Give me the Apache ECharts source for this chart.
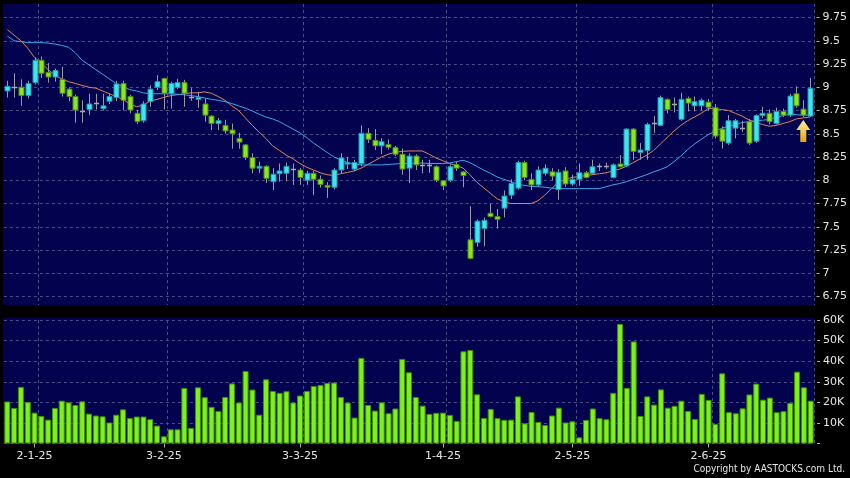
<!DOCTYPE html>
<html>
<head>
<meta charset="utf-8">
<script src="https://cdn.jsdelivr.net/npm/echarts@6/dist/echarts.min.js"></script>
<style>
html,body{margin:0;padding:0;background:#000;}
#chart{width:850px;height:478px;}
</style>
</head>
<body>
<div id="chart"></div>
<script>
// ---- data ----
const dates = [
'23-12-24','24-12-24','27-12-24','30-12-24','31-12-24',
'2-1-25','3-1-25','6-1-25','7-1-25','8-1-25','9-1-25','10-1-25','13-1-25','14-1-25','15-1-25','16-1-25','17-1-25','20-1-25','21-1-25','22-1-25','23-1-25','24-1-25','27-1-25','28-1-25',
'3-2-25','4-2-25','5-2-25','6-2-25','7-2-25','10-2-25','11-2-25','12-2-25','13-2-25','14-2-25','17-2-25','18-2-25','19-2-25','20-2-25','21-2-25','24-2-25','25-2-25','26-2-25','27-2-25','28-2-25',
'3-3-25','4-3-25','5-3-25','6-3-25','7-3-25','10-3-25','11-3-25','12-3-25','13-3-25','14-3-25','17-3-25','18-3-25','19-3-25','20-3-25','21-3-25','24-3-25','25-3-25','26-3-25','27-3-25','28-3-25','31-3-25',
'1-4-25','2-4-25','3-4-25','7-4-25','8-4-25','9-4-25','10-4-25','11-4-25','14-4-25','15-4-25','16-4-25','17-4-25','22-4-25','23-4-25','24-4-25','25-4-25','28-4-25','29-4-25','30-4-25',
'2-5-25','6-5-25','7-5-25','8-5-25','9-5-25','12-5-25','13-5-25','14-5-25','15-5-25','16-5-25','19-5-25','20-5-25','21-5-25','22-5-25','23-5-25','26-5-25','27-5-25','28-5-25','29-5-25','30-5-25',
'2-6-25','3-6-25','4-6-25','5-6-25','6-6-25','9-6-25','10-6-25','11-6-25','12-6-25','13-6-25','16-6-25','17-6-25','18-6-25','19-6-25','20-6-25'
];
const openP = [
8.96,9.00,9.00,8.91,9.05,9.29,9.16,9.11,9.085,8.98,8.90,8.75,8.76,8.83,8.77,8.85,8.89,9.04,8.90,8.72,
8.64,8.845,9.00,9.095,8.93,9.00,9.05,8.89,8.87,8.82,8.69,8.61,8.59,8.54,8.45,8.38,8.245,8.13,8.15,7.985,
8.07,8.075,8.12,8.11,8.00,8.075,8.01,7.945,7.925,8.11,8.175,8.12,8.18,8.505,8.43,8.37,8.385,8.35,8.28,8.13,
8.26,8.165,8.165,8.145,7.995,8.00,8.17,8.09,7.36,7.33,7.48,7.645,7.61,7.70,7.84,7.915,8.19,8.01,7.95,8.075,
8.09,7.90,8.10,7.96,8.01,8.08,8.075,8.15,8.15,8.03,8.175,8.155,8.55,8.30,8.32,8.62,8.59,8.87,8.82,8.655,
8.88,8.80,8.80,8.84,8.78,8.55,8.40,8.56,8.56,8.63,8.42,8.695,8.72,8.61,8.74,8.70,8.93,8.765,8.69
];
const highP = [
9.07,9.15,9.085,9.07,9.32,9.33,9.26,9.20,9.22,9.00,8.92,8.86,8.93,8.93,8.93,8.93,9.07,9.07,8.92,8.755,
8.85,9.02,9.13,9.10,9.06,9.09,9.08,8.99,8.95,8.88,8.70,8.67,8.65,8.61,8.51,8.39,8.29,8.20,8.16,8.13,
8.18,8.19,8.18,8.13,8.10,8.10,8.05,7.98,8.13,8.29,8.25,8.22,8.59,8.56,8.55,8.45,8.44,8.37,8.34,8.29,
8.28,8.22,8.22,8.16,8.00,8.17,8.20,8.10,7.72,7.58,7.60,7.75,7.69,7.89,8.01,8.21,8.21,8.075,8.15,8.17,
8.13,8.12,8.14,8.06,8.18,8.10,8.22,8.18,8.19,8.18,8.27,8.56,8.56,8.40,8.62,8.69,8.91,8.88,8.89,8.94,
8.90,8.90,8.88,8.87,8.82,8.58,8.70,8.66,8.64,8.66,8.71,8.79,8.76,8.78,8.77,8.93,9.01,8.86,9.10
];
const lowP = [
8.89,8.89,8.80,8.88,9.03,9.10,9.05,9.06,8.90,8.85,8.62,8.62,8.70,8.76,8.75,8.82,8.85,8.75,8.72,8.605,
8.62,8.79,8.97,8.76,8.77,8.98,8.79,8.855,8.78,8.63,8.54,8.54,8.50,8.34,8.34,8.22,8.075,8.08,7.97,7.895,
7.985,7.99,7.95,7.95,7.95,7.84,7.92,7.81,7.90,8.07,8.12,8.10,8.15,8.40,8.325,8.28,8.33,8.26,8.06,7.97,
8.11,8.075,8.08,7.98,7.895,7.98,8.10,7.925,7.15,7.285,7.29,7.60,7.48,7.60,7.80,7.90,8.00,7.895,7.93,8.05,
8.00,7.79,7.93,7.94,7.94,8.02,8.06,8.10,8.12,8.02,8.14,8.14,8.22,8.22,8.22,8.51,8.58,8.72,8.73,8.64,
8.74,8.74,8.75,8.75,8.45,8.34,8.38,8.45,8.52,8.38,8.40,8.67,8.60,8.60,8.68,8.68,8.78,8.68,8.68
];
const closeP = [
9.01,9.00,8.91,9.04,9.29,9.15,9.11,9.18,8.935,8.90,8.755,8.75,8.82,8.83,8.80,8.90,9.035,8.86,8.755,8.63,
8.82,8.98,9.06,8.935,9.04,9.05,8.935,8.89,8.89,8.70,8.61,8.64,8.53,8.50,8.41,8.245,8.13,8.15,8.02,8.065,
8.10,8.15,8.12,8.03,8.075,8.01,7.955,7.925,8.11,8.24,8.19,8.19,8.505,8.44,8.37,8.415,8.355,8.28,8.12,8.26,
8.165,8.165,8.165,8.00,7.94,8.145,8.13,8.05,7.16,7.56,7.57,7.61,7.58,7.83,7.965,8.19,8.03,7.95,8.11,8.13,
8.045,8.085,7.96,8.01,8.08,8.03,8.145,8.15,8.15,8.165,8.145,8.55,8.31,8.325,8.60,8.62,8.89,8.76,8.82,8.87,
8.83,8.845,8.86,8.785,8.475,8.42,8.64,8.64,8.56,8.40,8.695,8.72,8.63,8.74,8.70,8.905,8.80,8.70,8.99
];
const volumeK = [
20.4,17.3,27.5,20.2,15.0,13.4,11.6,17.3,20.8,20.0,18.7,20.5,14.5,13.6,13.2,10.2,14.0,16.6,12.4,13.1,
13.1,11.8,8.7,3.5,6.9,6.9,27.0,7.6,27.3,22.5,17.8,15.8,22.6,29.2,19.9,35.2,26.2,14.0,31.2,25.5,
24.6,25.4,19.9,23.3,25.5,27.9,28.4,29.4,29.6,22.6,19.9,12.6,41.6,18.7,16.0,20.0,14.7,17.0,41.1,34.6,
22.6,18.4,14.4,14.9,15.0,13.9,11.0,44.8,45.4,23.9,12.4,16.8,12.3,11.5,11.6,22.9,9.8,15.3,10.5,9.0,
13.6,17.4,10.2,10.8,3.0,11.5,17.0,12.3,11.8,24.6,58.1,27.0,49.6,13.4,22.9,18.9,26.3,17.4,18.3,20.8,
15.8,11.9,24.1,21.2,9.5,34.1,15.2,14.7,17.1,23.8,29.1,21.3,22.3,15.2,15.7,19.7,34.9,27.3,20.8
];
const maShort = [
9.62,9.56,9.50,9.42,9.32,9.26,9.19,9.13,9.09,9.06,9.04,9.02,9.00,8.99,8.96,8.93,8.90,8.87,8.82,8.79,
8.81,8.85,8.87,8.89,8.91,8.92,8.93,8.94,8.94,8.95,8.935,8.90,8.86,8.80,8.75,8.67,8.59,8.52,8.45,8.37,
8.32,8.27,8.23,8.18,8.14,8.11,8.08,8.06,8.05,8.07,8.085,8.10,8.13,8.17,8.21,8.25,8.28,8.30,8.31,8.315,
8.315,8.315,8.28,8.24,8.21,8.18,8.16,8.13,8.06,7.98,7.92,7.86,7.80,7.77,7.75,7.75,7.75,7.75,7.78,7.84,
7.91,7.98,8.01,8.03,8.04,8.05,8.06,8.07,8.08,8.10,8.12,8.15,8.19,8.23,8.27,8.32,8.39,8.46,8.53,8.59,
8.64,8.68,8.72,8.77,8.77,8.76,8.75,8.72,8.69,8.65,8.62,8.60,8.58,8.59,8.61,8.63,8.66,8.67,8.68
];
const maLong = [
9.55,9.50,9.49,9.48,9.48,9.48,9.475,9.465,9.45,9.43,9.37,9.29,9.24,9.19,9.14,9.09,9.04,9.005,8.975,8.96,
8.94,8.93,8.93,8.93,8.93,8.925,8.92,8.91,8.90,8.885,8.87,8.86,8.845,8.825,8.80,8.775,8.745,8.71,8.68,8.66,
8.63,8.59,8.55,8.51,8.46,8.40,8.35,8.30,8.25,8.22,8.19,8.175,8.165,8.165,8.165,8.165,8.17,8.175,8.18,8.18,
8.185,8.185,8.18,8.18,8.18,8.185,8.20,8.215,8.19,8.15,8.11,8.075,8.035,8.01,7.985,7.96,7.945,7.935,7.93,7.925,
7.915,7.91,7.91,7.91,7.91,7.91,7.91,7.91,7.93,7.95,7.965,7.985,8.01,8.035,8.06,8.09,8.115,8.145,8.20,8.26,
8.33,8.39,8.44,8.49,8.525,8.56,8.58,8.60,8.62,8.63,8.64,8.645,8.655,8.675,8.695,8.71,8.705,8.70,8.70
];
const priceTicks = {min: 6.75, max: 9.75, step: 0.25};
const volumeTicks = {min: 0, max: 60, step: 10};
const arrowIndex = 117;
const arrowPrice = 8.53;

// ---- build ----
const monthOf = d => d.split('-')[1];
const monthStart = new Set();
for (let i = 1; i < dates.length; i++) if (monthOf(dates[i]) !== monthOf(dates[i-1])) monthStart.add(i);
const isMonthStart = i => monthStart.has(i);
const isBeforeMonthStart = i => monthStart.has(i + 1);

const candleData = dates.map((d, i) => [i, openP[i], closeP[i], lowP[i], highP[i]]);

const UP_FILL = '#3fe4f2', UP_LINE = '#1f97a6';
const DN_FILL = '#8be61f', DN_LINE = '#4f8a14';
const WICK = '#9a9aa6';

function renderCandle(params, api) {
  const i = api.value(0), o = api.value(1), c = api.value(2), l = api.value(3), h = api.value(4);
  const pO = api.coord([i, o]), pC = api.coord([i, c]), pL = api.coord([i, l]), pH = api.coord([i, h]);
  const bw = Math.round(api.size([1, 0])[0] * 0.74);
  const xc = Math.round(pO[0]) + 0.5;
  const children = [{
    type: 'line',
    shape: {x1: xc, y1: pH[1], x2: xc, y2: pL[1]},
    style: {stroke: WICK, lineWidth: 1}
  }];
  if (Math.abs(o - c) < 1e-9) {
    const y = Math.round(pO[1]) + 0.5;
    children.push({type: 'line', shape: {x1: xc - bw/2, y1: y, x2: xc + bw/2, y2: y}, style: {stroke: '#a8a8b0', lineWidth: 1.5}});
  } else {
    const up = c > o;
    const top = Math.min(pO[1], pC[1]);
    const hgt = Math.max(Math.abs(pO[1] - pC[1]), 1.5);
    children.push({
      type: 'rect',
      shape: {x: xc - bw/2, y: top, width: bw, height: hgt},
      style: {fill: up ? UP_FILL : DN_FILL, stroke: up ? UP_LINE : DN_LINE, lineWidth: 1}
    });
  }
  return {type: 'group', children};
}

const gridLine = {color: '#4c4c86', type: [3, 3], width: 1};
const labelFont = {color: '#e6e6e6', fontSize: 11, fontFamily: 'DejaVu Sans'};

const chart = echarts.init(document.getElementById('chart'), null, {renderer: 'canvas'});
chart.setOption({
  backgroundColor: '#000000',
  animation: false,
  graphic: [
    {type: 'rect', z: -10, silent: true, shape: {x: 3, y: 4, width: 811, height: 301}, style: {fill: '#02024e'}},
    {type: 'rect', z: -10, silent: true, shape: {x: 3, y: 318, width: 811, height: 126}, style: {fill: '#02024e'}},
    {type: 'text', z: 10, right: 5, top: 464, style: {text: 'Copyright by AASTOCKS.com Ltd.', fill: '#e6e6e6', font: '10px "DejaVu Sans Condensed", "DejaVu Sans"'}}
  ],
  grid: [
    {left: 3.9, right: 35.9, top: 17.5, height: 279},
    {left: 3.9, right: 35.9, top: 320, height: 123.5},
    {left: 3.9, right: 35.9, top: 4, height: 301}
  ],
  xAxis: [
    {type: 'category', gridIndex: 0, data: dates, boundaryGap: true,
     axisLine: {show: false}, axisTick: {show: false}, axisLabel: {show: false},
     splitLine: {show: false}},
    {type: 'category', gridIndex: 1, data: dates, boundaryGap: true,
     axisLine: {show: false},
     axisTick: {show: true, alignWithLabel: true, interval: isBeforeMonthStart, length: 4, lineStyle: {color: '#b0b0b0'}},
     axisLabel: Object.assign({interval: isBeforeMonthStart, margin: 7, formatter: (v, idx) => dates[idx + 1]}, labelFont),
     splitLine: {show: true, interval: isMonthStart, lineStyle: gridLine}},
    {type: 'category', gridIndex: 2, data: dates, boundaryGap: true,
     axisLine: {show: false}, axisTick: {show: false}, axisLabel: {show: false},
     splitLine: {show: true, interval: isMonthStart, lineStyle: gridLine}}
  ],
  yAxis: [
    {type: 'value', gridIndex: 0, position: 'right', offset: 3,
     min: priceTicks.min, max: priceTicks.max, interval: priceTicks.step,
     axisLine: {show: false}, axisTick: {show: true, length: 3, lineStyle: {color: '#b0b0b0'}},
     axisLabel: Object.assign({margin: 6}, labelFont),
     splitLine: {show: true, lineStyle: gridLine}},
    {type: 'value', gridIndex: 1, position: 'right', offset: 3,
     min: volumeTicks.min, max: volumeTicks.max, interval: volumeTicks.step,
     axisLine: {show: false}, axisTick: {show: true, length: 3, lineStyle: {color: '#b0b0b0'}},
     axisLabel: Object.assign({margin: 6, formatter: v => v === 0 ? '' : v + 'K'}, labelFont),
     splitLine: {show: true, lineStyle: gridLine}},
    {type: 'value', gridIndex: 2, show: false, min: 0, max: 1, splitLine: {show: false}}
  ],
  series: [
    {type: 'custom', name: 'price', xAxisIndex: 0, yAxisIndex: 0, data: candleData,
     encode: {x: 0, y: [1, 2, 3, 4]}, renderItem: renderCandle, z: 3},
    {type: 'line', name: 'MA short', xAxisIndex: 0, yAxisIndex: 0, data: maShort, symbol: 'none',
     lineStyle: {color: '#e0875a', width: 1}, z: 2},
    {type: 'line', name: 'MA long', xAxisIndex: 0, yAxisIndex: 0, data: maLong, symbol: 'none',
     lineStyle: {color: '#3ea6ea', width: 1}, z: 2,
     markPoint: {
       symbol: 'path://M7,0 L14,10 L10,10 L10,22 L4,22 L4,10 L0,10 Z',
       symbolSize: [14, 22], label: {show: false}, silent: true,
       itemStyle: {color: {type: 'linear', x: 0, y: 0, x2: 0, y2: 1, colorStops: [{offset: 0, color: '#fff2a0'}, {offset: 1, color: '#e8a600'}]}},
       data: [{coord: [arrowIndex, arrowPrice]}]
     }},
    {type: 'bar', name: 'volume', xAxisIndex: 1, yAxisIndex: 1, data: volumeK, barWidth: 6,
     itemStyle: {color: '#7ff01e', borderColor: '#3f8f06', borderWidth: 1}}
  ]
});
</script>
</body>
</html>
